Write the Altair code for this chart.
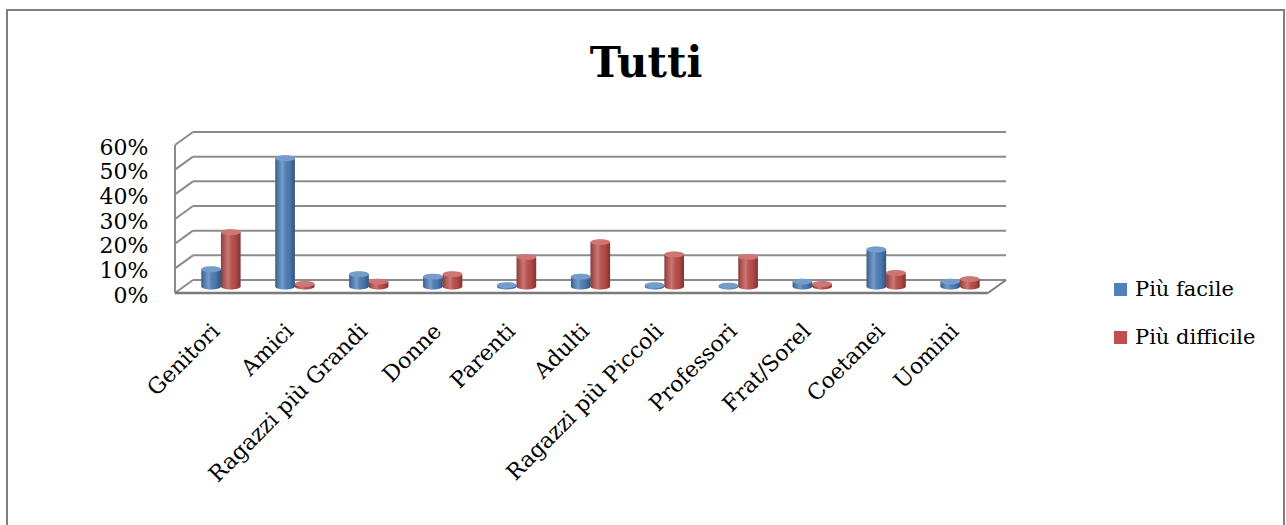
import altair as alt
import pandas as pd

# Survey data: share of answers per person category
categorie = [
    "Genitori", "Amici", "Ragazzi più Grandi", "Donne", "Parenti", "Adulti",
    "Ragazzi più Piccoli", "Professori", "Frat/Sorel", "Coetanei", "Uomini",
]
serie = ["Più facile", "Più difficile"]
piu_facile = [0.07, 0.52, 0.05, 0.04, 0.005, 0.04, 0.005, 0.003, 0.02, 0.15, 0.02]
piu_difficile = [0.22, 0.01, 0.02, 0.05, 0.12, 0.18, 0.13, 0.12, 0.01, 0.055, 0.03]
tick_valori = [0.0, 0.1, 0.2, 0.3, 0.4, 0.5, 0.6]
titolo = "Tutti"

# Layout (pixels)
TOTAL_W, TOTAL_H = 1286, 525
LEFT, TOP = 175, 145
W, H = 813, 148
DEPTH_X, DEPTH_Y = 18, 13          # offset of the back wall
Y_MAX = 0.6
depth_units = DEPTH_Y * Y_MAX / H  # the same offset in value units
PAD_INNER = 0.47
PAD_OUTER = PAD_INNER / 2
STEP = W / (len(categorie) - PAD_INNER + 2 * PAD_OUTER)
BAR_W = STEP * (1 - PAD_INNER) / 2
# columns sit halfway into the depth: push the bands right by DEPTH_X / 2
OUTER_PX = 2 * PAD_OUTER * STEP
ALIGN = (OUTER_PX / 2 + DEPTH_X / 2) / OUTER_PX

BLU = "#4F81BD"
ROSSO = "#C0504D"
GRIGIO = "#8c8c8c"
FONT = "DejaVu Serif"

bars = pd.DataFrame({
    "categoria": categorie * 2,
    "serie": [serie[0]] * len(categorie) + [serie[1]] * len(categorie),
    "valore": piu_facile + piu_difficile,
})
grid = pd.DataFrame({"valore": tick_valori})
grid["valore2"] = grid["valore"] + depth_units

y_scale = alt.Scale(domain=[0, Y_MAX], nice=False)
y_axis = alt.Axis(
    values=tick_valori, format=".0%", domain=False, ticks=False, grid=False,
    labelFont=FONT, labelFontSize=22, labelColor="#000000", labelPadding=27,
    labelOffset=2, title=None, zindex=1,
)

# outer chart frame
frame = alt.Chart(pd.DataFrame({"k": [0]})).mark_rect(
    filled=False, stroke="#7f7f7f", strokeWidth=2
).encode(
    x=alt.value(7 - LEFT), x2=alt.value(1284 - LEFT),
    y=alt.value(10 - TOP), y2=alt.value(TOTAL_H + 20 - TOP),
)

# back wall gridlines
back_grid = alt.Chart(grid).mark_rule(
    color=GRIGIO, strokeWidth=2, yOffset=-DEPTH_Y
).encode(
    y=alt.Y("valore:Q", scale=y_scale, axis=y_axis),
    x=alt.value(DEPTH_X), x2=alt.value(W + DEPTH_X),
)

# left wall diagonals
side = alt.Chart(grid).mark_rule(color=GRIGIO, strokeWidth=2).encode(
    y=alt.Y("valore:Q", scale=y_scale, axis=y_axis),
    y2="valore2",
    x=alt.value(0), x2=alt.value(DEPTH_X),
)

# left wall front edge
side_edge = alt.Chart(pd.DataFrame({"valore": [0.0], "valore2": [Y_MAX]})).mark_rule(
    color=GRIGIO, strokeWidth=2
).encode(
    y=alt.Y("valore:Q", scale=y_scale, axis=y_axis), y2="valore2", x=alt.value(0),
)

# floor front edge and right diagonal
floor_front = alt.Chart(pd.DataFrame({"valore": [0.0]})).mark_rule(
    color="#7a7a7a", strokeWidth=2.5
).encode(
    y=alt.Y("valore:Q", scale=y_scale, axis=y_axis), x=alt.value(0), x2=alt.value(W),
)
floor_side = alt.Chart(pd.DataFrame({"valore": [0.0], "valore2": [depth_units]})).mark_rule(
    color="#7a7a7a", strokeWidth=2
).encode(
    y=alt.Y("valore:Q", scale=y_scale, axis=y_axis), y2="valore2",
    x=alt.value(W), x2=alt.value(W + DEPTH_X),
)

x_enc = alt.X(
    "categoria:N", sort=categorie,
    scale=alt.Scale(paddingInner=PAD_INNER, paddingOuter=PAD_OUTER, align=ALIGN),
    axis=alt.Axis(
        labelAngle=-45, labelAlign="right", labelBaseline="middle",
        labelFont=FONT, labelFontSize=22, labelColor="#000000",
        labelPadding=34, labelOffset=-5, domain=False, ticks=False, grid=False,
        title=None, labelOverlap=False, labelLimit=400, zindex=1,
    ),
)
xoff_enc = alt.XOffset("serie:N", sort=serie, scale=alt.Scale(paddingInner=0.0))
color_enc = alt.Color(
    "serie:N", sort=serie,
    scale=alt.Scale(domain=serie, range=[BLU, ROSSO]),
    legend=alt.Legend(
        title=None, orient="none", legendX=935, legendY=134,
        symbolType="square", symbolSize=169, symbolStrokeWidth=0,
        labelFont=FONT, labelFontSize=21, labelColor="#000000",
        rowPadding=26, padding=0, labelOffset=4,
    ),
)

# columns rise from the middle of the floor depth
base = alt.Chart(bars).transform_calculate(
    cima=f"datum.valore + {depth_units / 2}",
    piede=f"{depth_units / 2}",
)

columns = base.mark_bar().encode(
    x=x_enc, xOffset=xoff_enc,
    y=alt.Y("cima:Q", scale=y_scale, axis=y_axis), y2="piede:Q",
    color=color_enc,
)

# cylindrical shading over the columns
shade = alt.Gradient(
    gradient="linear", x1=0, x2=1, y1=0, y2=0,
    stops=[
        alt.GradientStop(color="rgba(0,0,0,0.28)", offset=0),
        alt.GradientStop(color="rgba(255,255,255,0.22)", offset=0.38),
        alt.GradientStop(color="rgba(0,0,0,0.05)", offset=0.7),
        alt.GradientStop(color="rgba(0,0,0,0.35)", offset=1),
    ],
)
shading = base.mark_bar(fill=shade).encode(
    x=x_enc, xOffset=xoff_enc,
    y=alt.Y("cima:Q", scale=y_scale, axis=y_axis), y2="piede:Q",
)

# elliptical ends of the cylinders
ELLISSE = "M-1,0A1,0.3,0,1,1,1,0A1,0.3,0,1,1,-1,0Z"
bottom_caps = base.mark_point(
    shape=ELLISSE, filled=True, opacity=1, size=BAR_W ** 2,
).encode(
    x=x_enc, xOffset=xoff_enc,
    y=alt.Y("piede:Q", scale=y_scale, axis=y_axis),
    color=color_enc,
)
bottom_shade = base.mark_point(
    shape=ELLISSE, filled=True, opacity=1, size=BAR_W ** 2, fill=shade,
).encode(
    x=x_enc, xOffset=xoff_enc,
    y=alt.Y("piede:Q", scale=y_scale, axis=y_axis),
)
top_caps = base.mark_point(
    shape=ELLISSE, filled=True, opacity=1, size=BAR_W ** 2,
).encode(
    x=x_enc, xOffset=xoff_enc,
    y=alt.Y("cima:Q", scale=y_scale, axis=y_axis),
    color=color_enc,
)
top_light = base.mark_point(
    shape=ELLISSE, filled=True, size=BAR_W ** 2, color="white", opacity=0.22,
).encode(
    x=x_enc, xOffset=xoff_enc,
    y=alt.Y("cima:Q", scale=y_scale, axis=y_axis),
)

title_mark = alt.Chart(pd.DataFrame({"t": [titolo]})).mark_text(
    font=FONT, fontSize=42, fontWeight="bold", color="#000000",
    align="center", baseline="alphabetic",
).encode(
    text="t:N", x=alt.value(646 - LEFT), y=alt.value(77 - TOP),
)

chart = alt.layer(
    frame, back_grid, side, side_edge, floor_front, floor_side,
    bottom_caps, bottom_shade, columns, shading, top_caps, top_light, title_mark,
).properties(
    width=W, height=H,
    autosize=alt.AutoSizeParams(type="none"),
    padding={"left": LEFT, "top": TOP,
             "right": TOTAL_W - LEFT - W, "bottom": TOTAL_H - TOP - H},
    background="white",
).configure_view(stroke=None)

chart.save("out.html", embed_options={"renderer": "svg", "actions": False})
